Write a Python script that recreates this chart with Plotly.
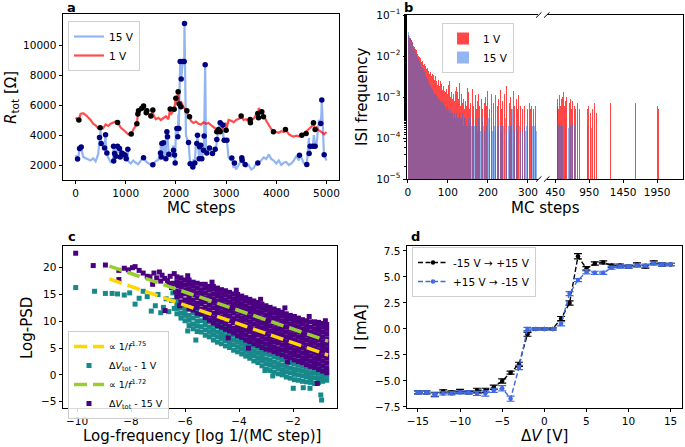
import plotly.graph_objects as go

W, H = 685, 447
def px(x): return x / W
def py(y): return 1 - y / H

# ---------------- Panel a : R_tot vs MC steps ----------------
a_steps = list(range(0, 5001, 50))
a_R_1V = [5150, 5050, 5400, 5450, 5350, 5200, 5000, 4750, 4650, 4450,
          4550, 4450, 4700, 4600, 4750, 4850, 4900, 4750, 4500, 4350,
          4200, 4050, 4100, 4350, 4700, 5350, 5650, 5900, 5750, 5400,
          5300, 5350, 5050, 5150, 5000, 5150, 5250, 5050, 5350, 5700,
          6050, 6500, 6250, 5850, 5650, 5250, 4950, 4800, 4900, 4750,
          4700, 4850, 4750, 4800, 4650, 4550, 4400, 4200, 4350, 4600,
          4800, 5000, 4950, 4850, 5000, 5100, 5150, 5000, 5050, 4900,
          4950, 5100, 5350, 5800, 5500, 5300, 4950, 4650, 4400, 4250,
          4200, 4150, 4250, 4200, 4300, 4050, 3950, 3900, 3950, 3900,
          4050, 4100, 4250, 4400, 4550, 4650, 4500, 4300, 4200, 4050, 4200]
a_R_15V = [2650, 2400, 2900, 2550, 2450, 2400, 2300, 2450, 2250, 2700,
           4300, 3300, 3600, 2500, 2200, 2350, 3150, 2800, 3050, 2550,
           2500, 2250, 2100, 2300, 2150, 2050, 2300, 2500, 2250, 2100,
           2000, 2100, 2250, 2350, 3400, 2600, 4100, 3000, 2500, 3300,
           4400, 5400, 8000, 8800, 4000, 3400, 2000, 2400, 3500, 3200,
           2900, 3900, 3100, 3000, 2900, 2800, 3000, 4300, 4700, 3700,
           3700, 2500, 2300, 1800, 1700, 2000, 2300, 2100, 1900, 2000,
           1700, 1800, 2100, 2200, 2300, 2500, 2400, 2700, 2400, 2300,
           2100, 2300, 2000, 2150, 2200, 2000, 2100, 2300, 2600, 2300,
           2500, 2100, 2100, 3800, 3300, 4000, 3300, 5000, 5500, 2700, 2300]
a_dot1_steps = [66, 491, 837, 1109, 1222, 1242, 1255, 1321, 1355, 1408, 1421, 1501,
                1540, 1886, 1965, 1999, 2045, 2065, 2098, 2218, 2271, 2815, 2849,
                2882, 3001, 3300, 3479, 3485, 3632, 3645, 3712, 3745, 3944, 4183,
                4509, 4595, 4741, 4774]
a_dot1_R = [4995, 4480, 4840, 4060, 4750, 5400, 5620, 5780, 5930, 5490, 5620, 5260,
            5670, 5730, 5710, 6450, 6890, 6070, 5890, 5620, 5220, 4210, 4370,
            4210, 4320, 5260, 5040, 4820, 5440, 5150, 5550, 5220, 4210, 4370,
            3990, 4100, 4820, 4370]
a_dot15_steps = [40, 80, 113, 478, 511, 578, 598, 624, 757, 777, 760, 803, 837, 876,
                 890, 923, 956, 989, 1009, 1042, 1355, 1540, 1693, 1707, 1720, 1753,
                 1800, 1820, 1833, 1859, 1952, 1972, 1985, 2019, 2038, 2058, 2085,
                 2105, 2138, 2165, 2171, 2251, 2284, 2337, 2377, 2417, 2430, 2463,
                 2470, 2496, 2516, 2550, 2563, 2583, 2616, 2669, 2729, 2782, 2815,
                 2882, 2935, 2962, 3015, 3114, 3167, 3313, 3320, 3380, 3632, 4462,
                 4608, 4655, 4675, 4728, 4774, 4887, 4907, 4954]
a_dot15_R = [2400, 3100, 3200, 3830, 3430, 3140, 4010, 2800, 3250, 2760, 2270, 2580,
             3250, 3100, 2540, 2800, 2720, 2650, 2420, 3050, 2490, 2020, 2800, 2540,
             3430, 3480, 2420, 4210, 3880, 2720, 2980, 2670, 2130, 4440, 3880, 4440,
             8900, 7740, 8900, 8900, 11430, 3500, 2090, 1870, 2130, 3430, 3990, 2420,
             3210, 3320, 2420, 2980, 3940, 8680, 2800, 3140, 2760, 3050, 3700,
             4820, 4660, 3650, 3650, 2470, 2130, 2490, 2310, 2040, 2130, 2650,
             2040, 2760, 3250, 3250, 3250, 4770, 6340, 2690]

# ---------------- Panel b : ISI histogram ----------------
b_bin_width = 2
b_isi_1V = [
    0.032, 0.030, 0.028, 0.027, 0.025, 0.022, 0.020, 0.018, 0.017, 0.015,
    0.014, 0.012, 0.0115, 0.010, 0.0095, 0.0088, 0.0082, 0.0070, 0.0075, 0.0060,
    0.0064, 0.0052, 0.0058, 0.0047, 0.0050, 0.0042, 0.0046, 0.0036, 0.0040, 0.0033,
    0.0037, 0.0029, 0.0034, 0.0026, 0.0032, 0.0024, 0.0028, 0.0020, 0.0026, 0.0019,
    0.0024, 0.0017, 0.0021, 0.0015, 0.0019, 0.0014, 0.0018, 0.0013, 0.0016, 0.0012,
    0.0020, 0.0011, 0.0025, 0.0010, 0.0013, 0.0009, 0.0042, 0.0012, 0.0008, 0.0014,
    0.0018, 0.0007, 0.0013, 0.0009, 0.0022, 0.0006, 0.0010, 0.0012, 0.0007, 0.0009,
    0.0005, 0.0011, 0.0008, 0.0006, 0.0017, 0.0013, 0.0005, 0.0010, 0.0007, 0,
    0.0016, 0.0006, 0.0009, 0, 0.0011, 0.0005, 0.0008, 0, 0.0012, 0.0006,
    0, 0.0009, 0.0016, 0.0005, 0, 0.0007, 0.0010, 0, 0.0006, 0.0014,
    0, 0.0005, 0.0009, 0, 0.0012, 0, 0.0007, 0.0005, 0, 0.0011,
    0, 0.0006, 0, 0.0009, 0, 0.0015, 0.0005, 0, 0.0008, 0,
    0.0012, 0, 0.0006, 0.0019, 0, 0, 0.0007, 0, 0.0010, 0.0005,
    0, 0.0014, 0, 0.0006, 0, 0.0009, 0.0005, 0, 0.0011, 0,
    0.0006, 0, 0.0013, 0.0005, 0, 0.0006, 0, 0.0010, 0, 0.0005,
    0, 0.0007, 0, 0.0005, 0.0006, 0, 0.0005, 0, 0, 0.0006,
    0, 0, 0.0006]
b_isi_15V = [
    0.038, 0.033, 0.030, 0.027, 0.024, 0.021, 0.019, 0.016, 0.015, 0.013,
    0.012, 0.0105, 0.0095, 0.0085, 0.0075, 0.0068, 0.0062, 0.0055, 0.0050, 0.0046,
    0.0040, 0.0037, 0.0033, 0.0030, 0.0027, 0.0025, 0.0022, 0.0020, 0.0019, 0.0017,
    0.0016, 0.0014, 0.0013, 0.0012, 0.0012, 0.0011, 0.0010, 0.0010, 0.0009, 0.0009,
    0.0008, 0.0008, 0.0007, 0.0008, 0.0007, 0.0006, 0.0007, 0.0006, 0.0005, 0.0006,
    0.0005, 0.0005, 0.0004, 0.0005, 0.0004, 0.0004, 0.0005, 0.0003, 0.0004, 0.0003,
    0.0004, 0.0003, 0.0003, 0.0003, 0.0004, 0.0003, 0.0002, 0.0003, 0.0004, 0.0002,
    0.0003, 0.0002, 0.0003, 0.0002, 0.0002, 0.0003, 0.0002, 0, 0.0003, 0.0002,
    0.0002, 0.0003, 0, 0.0002, 0.0003, 0.0002, 0.00015, 0, 0.0003, 0.0002,
    0.00015, 0, 0.0002, 0.0003, 0.0002, 0.00015, 0, 0.0002, 0.0002, 0,
    0.0003, 0.00015, 0.0002, 0, 0.0002, 0.00015, 0, 0.0003, 0.0002, 0.00015,
    0, 0.0002, 0.00015, 0.0002, 0, 0.0002, 0.00015, 0, 0.0002, 0.0002,
    0, 0.0003, 0.0002, 0.00015, 0, 0.0002, 0.00015, 0, 0.0002, 0.0002,
    0.0005, 0, 0.0002, 0.00015, 0, 0.0002, 0.00015, 0.0002, 0, 0.0002,
    0.00015, 0, 0.0002, 0.00015, 0, 0.0002, 0.00015, 0, 0.0002, 0.00015,
    0, 0.0002, 0.00015, 0, 0.0002, 0.0002, 0, 0.00015, 0.0002, 0,
    0.00015, 0, 0]
b_tail_steps_1V = [480, 490, 500, 510, 520, 530, 540, 550, 560, 575, 590,
                   605, 620, 640, 655, 670, 690, 710, 730, 755, 780, 805, 830, 860,
                   890, 920, 945, 975, 1000, 1030, 1060, 1110, 1260, 1330, 1360,
                   1630, 1950, 1968]
b_tail_1V = [0.0006, 0.0009, 0.0005, 0.0011, 0.0013, 0.0006, 0.0009, 0.0005,
             0.0010, 0.0013, 0.0006, 0.0008, 0.0010, 0.0005, 0.0007, 0.0009,
             0.0005, 0.0008, 0.0006, 0.0005, 0.0007, 0.0005, 0.0006, 0.0004, 0.0007,
             0.0005, 0.0006, 0.0004, 0.0005, 0.0007, 0.0004, 0.0005, 0.0007, 0.0005,
             0.0006, 0.0007, 0.0006, 0.0005]
b_tail_steps_15V = [485, 500, 515, 530, 545, 560, 580, 600, 625, 650, 680, 710, 740,
                    770, 800, 830, 860, 890, 930, 980]
b_tail_15V = [0.00025, 0.0002, 0.00025, 0.0002, 0.00022, 0.0002, 0.00025, 0.0002,
              0.0002, 0.00018, 0.0002, 0.00022, 0.0002, 0.0002, 0.00018, 0.0002,
              0.0002, 0.00018, 0.0002, 0.00018]

# ---------------- Panel c : PSD ----------------
c_cols_x = [-6.3, -6.15, -6.0, -5.85, -5.7, -5.55, -5.4, -5.25, -5.1, -4.95, -4.8,
            -4.65, -4.5, -4.35, -4.2, -4.05, -3.9, -3.75, -3.6, -3.45, -3.3, -3.15,
            -3.0, -2.85, -2.7, -2.55, -2.4, -2.25, -2.1, -1.95, -1.8, -1.65, -1.5,
            -1.35, -1.2, -1.05, -0.9, -0.75]
c_cols_15V = [
    [14.6, 15.5, 16.6, 17.4, 18.3], [13.6, 14.7, 15.5, 16.4, 17.2, 18.1],
    [13.1, 14.0, 15.1, 15.9, 16.8, 17.7], [12.4, 13.5, 14.3, 15.2, 16.1, 17.0, 17.7],
    [12.1, 13.0, 13.9, 14.9, 15.7, 16.6, 17.3], [11.5, 12.6, 13.4, 14.4, 15.3, 16.2, 17.1],
    [11.4, 12.2, 13.2, 14.0, 15.0, 15.9, 16.9], [10.7, 11.7, 12.6, 13.6, 14.4, 15.3, 16.2, 16.9],
    [10.2, 11.2, 12.1, 13.0, 14.0, 14.8, 15.8, 16.5],
    [9.7, 10.6, 11.5, 12.5, 13.4, 14.2, 15.1, 16.0, 16.5],
    [9.2, 10.2, 11.1, 12.0, 12.9, 13.8, 14.7, 15.5, 16.2],
    [8.9, 9.9, 10.8, 11.7, 12.6, 13.5, 14.3, 15.2, 15.9],
    [8.5, 9.5, 10.4, 11.3, 12.2, 13.1, 14.0, 14.9, 15.7],
    [8.2, 9.1, 10.1, 11.0, 11.9, 12.7, 13.6, 14.5, 15.4],
    [7.8, 8.7, 9.7, 10.5, 11.5, 12.4, 13.3, 14.2, 15.1],
    [7.3, 8.3, 9.2, 10.1, 11.0, 11.9, 12.8, 13.7, 14.6, 15.0],
    [7.0, 7.9, 8.8, 9.8, 10.6, 11.5, 12.4, 13.3, 14.2, 14.7],
    [6.5, 7.5, 8.4, 9.3, 10.2, 11.1, 12.0, 12.9, 13.8, 14.4],
    [6.2, 7.1, 8.1, 9.0, 9.9, 10.8, 11.7, 12.5, 13.4, 14.1],
    [5.8, 6.8, 7.7, 8.6, 9.5, 10.4, 11.3, 12.2, 13.1, 13.8],
    [5.5, 6.4, 7.4, 8.3, 9.2, 10.1, 11.0, 11.8, 12.7, 13.5],
    [5.1, 6.1, 7.0, 7.9, 8.8, 9.7, 10.6, 11.5, 12.4, 13.2],
    [4.8, 5.8, 6.7, 7.6, 8.5, 9.4, 10.3, 11.2, 12.1, 12.9],
    [4.6, 5.5, 6.4, 7.3, 8.2, 9.1, 10.0, 10.9, 11.8, 12.6],
    [4.3, 5.2, 6.1, 7.0, 7.9, 8.8, 9.7, 10.6, 11.5, 12.3],
    [4.0, 4.9, 5.9, 6.8, 7.7, 8.6, 9.5, 10.4, 11.2, 12.0],
    [3.7, 4.7, 5.6, 6.5, 7.4, 8.3, 9.2, 10.1, 11.0, 11.7],
    [3.4, 4.4, 5.3, 6.2, 7.1, 8.0, 8.9, 9.8, 10.7, 11.4],
    [3.2, 4.1, 5.0, 5.9, 6.8, 7.7, 8.6, 9.5, 10.4, 11.1],
    [2.8, 3.8, 4.7, 5.6, 6.5, 7.4, 8.3, 9.2, 10.1, 10.9],
    [2.5, 3.5, 4.4, 5.3, 6.2, 7.1, 8.0, 8.9, 9.8, 10.6],
    [2.3, 3.2, 4.1, 5.0, 5.9, 6.8, 7.7, 8.6, 9.5, 10.3],
    [1.9, 2.9, 3.8, 4.7, 5.6, 6.5, 7.4, 8.3, 9.2, 10.1],
    [1.6, 2.6, 3.5, 4.4, 5.3, 6.2, 7.1, 8.0, 8.9, 9.9],
    [1.4, 2.3, 3.2, 4.1, 5.0, 5.9, 6.8, 7.7, 8.6, 9.5, 9.9],
    [1.0, 2.0, 2.9, 3.8, 4.7, 5.6, 6.5, 7.4, 8.3, 9.2, 9.8],
    [0.7, 1.7, 2.6, 3.5, 4.4, 5.3, 6.2, 7.1, 8.0, 8.9, 9.6],
    [0.4, 1.3, 2.2, 3.1, 4.0, 4.9, 5.8, 6.7, 7.6, 8.5, 9.4]]
c_cols_1V = [
    [11.4, 12.4, 13.3, 14.2, 15.0], [10.6, 11.5, 12.5, 13.6], [10.1, 11.1, 12.0, 13.0],
    [9.2, 10.2, 11.1, 12.2], [8.6, 9.5, 10.6, 11.6, 12.4], [8.1, 9.1, 10.0, 11.0, 11.9],
    [8.0, 9.0, 10.1, 11.2], [7.4, 8.4, 9.4, 10.3, 11.2], [7.1, 8.0, 8.9, 9.9, 10.7],
    [6.5, 7.5, 8.4, 9.3, 10.0], [6.1, 7.1, 8.0, 9.0, 9.6], [5.8, 6.8, 7.7, 8.6, 9.3],
    [5.4, 6.4, 7.3, 8.2, 9.0], [5.1, 6.0, 6.9, 7.8, 8.6], [4.6, 5.6, 6.5, 7.4, 8.2],
    [4.3, 5.2, 6.1, 7.0, 7.8], [3.9, 4.8, 5.7, 6.6, 7.4], [3.5, 4.4, 5.3, 6.2, 7.0],
    [3.1, 4.0, 4.9, 5.8, 6.6], [2.6, 3.6, 4.5, 5.4, 6.2], [2.3, 3.2, 4.1, 5.0, 5.9],
    [1.7, 2.7, 3.6, 4.5, 5.5], [1.1, 2.1, 3.0, 4.0, 5.0], [0.8, 1.8, 2.7, 3.7, 4.7],
    [0.5, 1.5, 2.4, 3.4, 4.4], [0.2, 1.2, 2.1, 3.1, 4.1], [0.0, 0.9, 1.8, 2.8, 3.8],
    [-0.4, 0.6, 1.5, 2.5, 3.5], [-0.6, 0.4, 1.3, 2.3, 3.2], [-0.9, 0.1, 1.0, 2.0, 2.9],
    [-1.0, 0.0, 0.9, 1.8, 2.6], [-1.2, -0.2, 0.7, 1.6, 2.4], [-1.3, -0.3, 0.6, 1.5, 2.1],
    [-1.4, -0.5, 0.4, 1.3, 1.8], [-1.6, -0.6, 0.3, 1.2, 1.6], [-1.4, -0.5, 0.4, 1.2],
    [-1.2, -0.3, 0.5, 1.0], [-1.0, -0.1, 0.7]]
c_extra_x_15V = [-10.05, -9.4, -8.95, -8.45, -8.45, -8.25, -8.1, -7.95, -7.85, -7.7,
                 -7.55, -7.4, -7.3, -7.15, -7.05, -6.95, -6.85, -6.75, -6.74, -6.65,
                 -6.55, -6.45, -6.4, -5.9, -5.0, -4.1, -3.2, -2.3, -1.4, -0.8,
                 -3.65, -1.1, -2.2, -4.4, -6.5, -6.35, -6.6, -6.2, -6.9, -7.2]
c_extra_y_15V = [22.7, 20.4, 20.5, 17.8, 19.5, 19.9, 19.6, 20.0, 20.2, 19.5,
                 19.0, 18.4, 18.3, 19.0, 18.1, 19.2, 18.6, 18.0, 12.0, 17.6,
                 18.4, 17.1, 18.9, 18.5, 17.3, 15.8, 14.1, 12.5, 10.9, 10.1,
                 5.0, -1.6, 2.4, 6.9, 16.3, 15.6, 17.0, 12.9, 17.5, 16.9]
c_extra_x_1V = [-10.05, -9.35, -8.95, -8.7, -8.5, -8.25, -8.05, -7.85, -7.7, -7.55,
                -7.4, -7.25, -7.1, -7.0, -6.9, -6.8, -6.7, -6.6, -6.5, -6.45, -6.4,
                -5.9, -5.6, -3.04, -2.36, -1.99, -1.62, -1.37, -0.97, -0.94, -2.75]
c_extra_y_1V = [16.3, 15.6, 15.2, 15.2, 15.1, 14.9, 15.3, 13.2, 14.3, 15.6,
                14.6, 11.9, 12.9, 15.0, 11.6, 12.6, 14.2, 11.8, 13.9, 15.3, 12.4,
                8.2, 6.5, 0.8, 0.3, -2.5, -2.4, -2.5, -3.75, -4.7, -0.2]
c_fit_x = [-8.8, -0.7]
c_fit_1V = [17.9, 3.7]
c_fit_15V = [20.3, 6.3]

# ---------------- Panel d : I-V ----------------
d_V = [-15, -14, -13, -12, -11, -10, -9, -8, -7, -6, -5, -4, -3, -2, -1, 0,
       1, 2, 3, 4, 5, 6, 7, 8, 9, 10, 11, 12, 13, 14, 15]
d_I_up = [-6.1, -6.1, -6.3, -6.0, -6.1, -6.0, -6.1, -5.9, -5.9, -5.6, -5.0, -4.2,
          -3.4, -0.5, 0.0, 0.0, 0.0, 1.0, 2.5, 7.0, 5.8, 6.3, 6.4, 6.1, 6.1, 6.0,
          6.2, 6.0, 6.4, 6.2, 6.2]
d_err_up = [0.15, 0.15, 0.2, 0.15, 0.15, 0.2, 0.15, 0.2, 0.2, 0.2, 0.2, 0.15,
            0.2, 0.2, 0.1, 0.1, 0.1, 0.2, 0.2, 0.25, 0.2, 0.15, 0.15, 0.15, 0.15,
            0.15, 0.15, 0.15, 0.15, 0.15, 0.1]
d_I_down = [-6.1, -6.1, -6.3, -6.2, -6.2, -6.1, -6.1, -6.2, -6.2, -5.9, -5.7, -6.7,
            -3.7, 0.0, 0.0, 0.0, 0.0, 0.5, 3.4, 4.7, 5.5, 5.4, 5.4, 5.9, 6.0, 6.0,
            6.1, 6.1, 6.3, 6.2, 6.2]
d_err_down = [0.15, 0.15, 0.15, 0.15, 0.15, 0.15, 0.15, 0.2, 0.25, 0.2, 0.25, 0.25,
              0.2, 0.15, 0.1, 0.1, 0.1, 0.2, 0.2, 0.15, 0.2, 0.15, 0.15, 0.15, 0.15,
              0.15, 0.15, 0.15, 0.15, 0.15, 0.1]

# ======================================================================
FONT = "DejaVu Sans"
fig = go.Figure()

# --- a
def merged(xs, ys, dx, dy):
    pts = sorted(zip(list(xs) + list(dx), list(ys) + list(dy)))
    return [p[0] for p in pts], [p[1] for p in pts]

bx, by = merged(a_steps, a_R_15V, a_dot15_steps, a_dot15_R)
rx, ry = merged(a_steps, a_R_1V, a_dot1_steps, a_dot1_R)
fig.add_trace(go.Scatter(x=bx, y=by, mode="lines", name="15 V",
                         line=dict(color="rgba(100,149,237,0.7)", width=2.2),
                         xaxis="x", yaxis="y", legend="legend", legendrank=1))
fig.add_trace(go.Scatter(x=rx, y=ry, mode="lines", name="1 V",
                         line=dict(color="rgba(255,0,0,0.7)", width=2.2),
                         xaxis="x", yaxis="y", legend="legend", legendrank=2))
fig.add_trace(go.Scatter(x=a_dot15_steps, y=a_dot15_R, mode="markers", showlegend=False,
                         marker=dict(color="#000080", size=5.5), xaxis="x", yaxis="y"))
fig.add_trace(go.Scatter(x=a_dot1_steps, y=a_dot1_R, mode="markers", showlegend=False,
                         marker=dict(color="black", size=5.5), xaxis="x", yaxis="y"))

# --- b
def nz(v):
    return [x if x > 0 else None for x in v]
b_bins = [i * b_bin_width + b_bin_width / 2 for i in range(len(b_isi_1V))]
RED = "rgba(255,0,0,0.72)"
BLU = "rgba(40,110,228,0.5)"
fig.add_trace(go.Bar(x=b_bins, y=nz(b_isi_1V), width=b_bin_width, name="1 V",
                     marker=dict(color=RED, line=dict(width=0)),
                     xaxis="x2", yaxis="y2", legend="legend2", legendrank=1))
fig.add_trace(go.Bar(x=b_bins, y=nz(b_isi_15V), width=b_bin_width, name="15 V",
                     marker=dict(color=BLU, line=dict(width=0)),
                     xaxis="x2", yaxis="y2", legend="legend2", legendrank=2))
fig.add_trace(go.Bar(x=b_tail_steps_1V, y=b_tail_1V, width=12, showlegend=False,
                     marker=dict(color=RED, line=dict(width=0)), xaxis="x3", yaxis="y3"))
fig.add_trace(go.Bar(x=b_tail_steps_15V, y=b_tail_15V, width=12, showlegend=False,
                     marker=dict(color=BLU, line=dict(width=0)), xaxis="x3", yaxis="y3"))

# --- c
def flat(cols_x, cols):
    xs, ys = [], []
    for x, col in zip(cols_x, cols):
        for v in col:
            xs.append(x); ys.append(v)
    return xs, ys
tx, ty = flat(c_cols_x, c_cols_1V)
vx, vy = flat(c_cols_x, c_cols_15V)
TEAL = "#17898a"
PURP = "#4b0082"
fig.add_trace(go.Scatter(x=c_extra_x_1V + tx, y=c_extra_y_1V + ty, mode="markers",
                         name="Δ<i>V</i><sub>tot</sub> - 1 V",
                         marker=dict(symbol="square", size=5, color=TEAL),
                         xaxis="x4", yaxis="y4", legend="legend3", legendrank=2))
fig.add_trace(go.Scatter(x=c_extra_x_15V + vx, y=c_extra_y_15V + vy, mode="markers",
                         name="Δ<i>V</i><sub>tot</sub> - 15 V",
                         marker=dict(symbol="square", size=5, color=PURP),
                         xaxis="x4", yaxis="y4", legend="legend3", legendrank=4))
fig.add_trace(go.Scatter(x=c_fit_x, y=c_fit_1V, mode="lines",
                         name="∝ 1/<i>f</i><sup>1.75</sup>",
                         line=dict(color="#ffd700", width=3.5, dash="13px,6px"),
                         xaxis="x4", yaxis="y4", legend="legend3", legendrank=1))
fig.add_trace(go.Scatter(x=c_fit_x, y=c_fit_15V, mode="lines",
                         name="∝ 1/<i>f</i><sup>1.72</sup>",
                         line=dict(color="#9acd32", width=3.5, dash="13px,6px"),
                         xaxis="x4", yaxis="y4", legend="legend3", legendrank=3))

# --- d
fig.add_trace(go.Scatter(x=d_V, y=d_I_up, mode="lines+markers", name="-15 V → +15 V",
                         line=dict(color="black", width=1.4, dash="5px,2.5px"),
                         marker=dict(color="black", size=4.5),
                         error_y=dict(type="data", array=d_err_up, color="black",
                                      thickness=1.2, width=4),
                         xaxis="x5", yaxis="y5", legend="legend4", legendrank=1))
fig.add_trace(go.Scatter(x=d_V, y=d_I_down, mode="lines+markers", name="+15 V → -15 V",
                         line=dict(color="#4169e1", width=1.4, dash="5px,2.5px"),
                         marker=dict(color="#4169e1", size=4.5),
                         error_y=dict(type="data", array=d_err_down, color="#4169e1",
                                      thickness=1.2, width=4),
                         xaxis="x5", yaxis="y5", legend="legend4", legendrank=2))

# ======================================================================
TF = dict(family=FONT, size=10.5, color="black")
def ax(**kw):
    base = dict(showline=True, linecolor="black", linewidth=0.9, mirror=True,
                ticks="outside", ticklen=3.5, tickwidth=0.8, tickcolor="black",
                showgrid=False, zeroline=False, tickfont=TF, automargin=False)
    base.update(kw)
    return base

exp_text = ["10<sup>−5</sup>", "10<sup>−4</sup>", "10<sup>−3</sup>", "10<sup>−2</sup>", "10<sup>−1</sup>"]
def leg(size=10.5, **kw):
    d = dict(bordercolor="#cfcfcf", borderwidth=1, bgcolor="rgba(255,255,255,0.85)",
             font=dict(family=FONT, size=size, color="black"), xanchor="left",
             yanchor="top", itemwidth=30, tracegroupgap=0)
    d.update(kw)
    return d

fig.update_layout(
    width=W, height=H, margin=dict(l=0, r=0, t=0, b=0, autoexpand=False),
    paper_bgcolor="white", plot_bgcolor="white",
    font=dict(family=FONT, color="black"),
    barmode="overlay", bargap=0,
    xaxis=ax(domain=[px(63), px(339)], range=[-250, 5250], anchor="y",
             tickvals=[0, 1000, 2000, 3000, 4000, 5000]),
    yaxis=ax(domain=[py(180), py(14)], range=[1000, 12067], anchor="x",
             tickvals=[2000, 4000, 6000, 8000, 10000], tickformat="d"),
    xaxis2=ax(domain=[px(407), px(538)], range=[-2, 325], anchor="y2",
              tickvals=[0, 100, 200, 300]),
    xaxis3=ax(domain=[px(547), px(683)], range=[330, 2330], anchor="y3",
              tickvals=[450, 950, 1450, 1950]),
    yaxis2=ax(domain=[py(179), py(15)], type="log", range=[-5, -1], anchor="x2",
              mirror=False, tickvals=[1e-5, 1e-4, 1e-3, 1e-2, 1e-1], ticktext=exp_text,
              minor=dict(ticks="outside", ticklen=2, tickcolor="black", tickwidth=0.6,
                         showgrid=False)),
    yaxis3=ax(domain=[py(179), py(15)], type="log", range=[-5, -1], anchor="x3",
              side="right", mirror=False, ticks="", showticklabels=False),
    xaxis4=ax(domain=[px(63), px(337)], range=[-10.52, -0.37], anchor="y4",
              tickvals=[-10, -8, -6, -4, -2]),
    yaxis4=ax(domain=[py(408), py(246)], range=[-6.18, 24.05], anchor="x4",
              tickvals=[-5, 0, 5, 10, 15, 20]),
    xaxis5=ax(domain=[px(407), px(682)], range=[-16.3, 16.35], anchor="y5",
              tickvals=[-15, -10, -5, 0, 5, 10, 15]),
    yaxis5=ax(domain=[py(408), py(246)], range=[-7.6, 7.98], anchor="x5",
              tickvals=[-7.5, -5, -2.5, 0, 2.5, 5, 7.5], tickformat=".1f"),
    legend=leg(x=px(68), y=py(21)),
    legend2=leg(x=px(442), y=py(23)),
    legend3=leg(size=9.5, x=px(68), y=py(331)),
    legend4=leg(x=px(412), y=py(247)),
)

# break marks on panel b
for (x0, x1) in [(536, 541.5), (544, 549.5)]:
    for yb in [15, 179]:
        fig.add_shape(type="line", xref="paper", yref="paper",
                      x0=px(x0), x1=px(x1), y0=py(yb + 2.7), y1=py(yb - 2.7),
                      line=dict(color="black", width=1))

def ann(text, x, y, size=15, angle=0, bold=False):
    fig.add_annotation(text=("<b>%s</b>" % text) if bold else text,
                       x=px(x), y=py(y), xref="paper", yref="paper",
                       showarrow=False, textangle=angle, xanchor="center", yanchor="middle",
                       font=dict(family=FONT, size=size, color="black"))

ann("a", 71, 7, 13, bold=True)
ann("b", 408, 7, 13, bold=True)
ann("c", 72, 236, 13, bold=True)
ann("d", 415, 236, 13, bold=True)
ann("MC steps", 201, 208)
ann("<i>R</i><sub>tot</sub> [Ω]", 12, 98, angle=-90)
ann("MC steps", 545, 208)
ann("ISI frequency", 362, 97, angle=-90)
ann("Log-frequency [log 1/(MC step)]", 202, 436)
ann("Log-PSD", 27, 328, angle=-90)
ann("Δ<i>V</i> [V]", 544, 436)
ann("I [mA]", 361, 327, angle=-90)

fig.write_html("out.html", config={"displayModeBar": False},
               post_script="document.body.style.margin='0px';document.body.style.overflow='hidden';")
